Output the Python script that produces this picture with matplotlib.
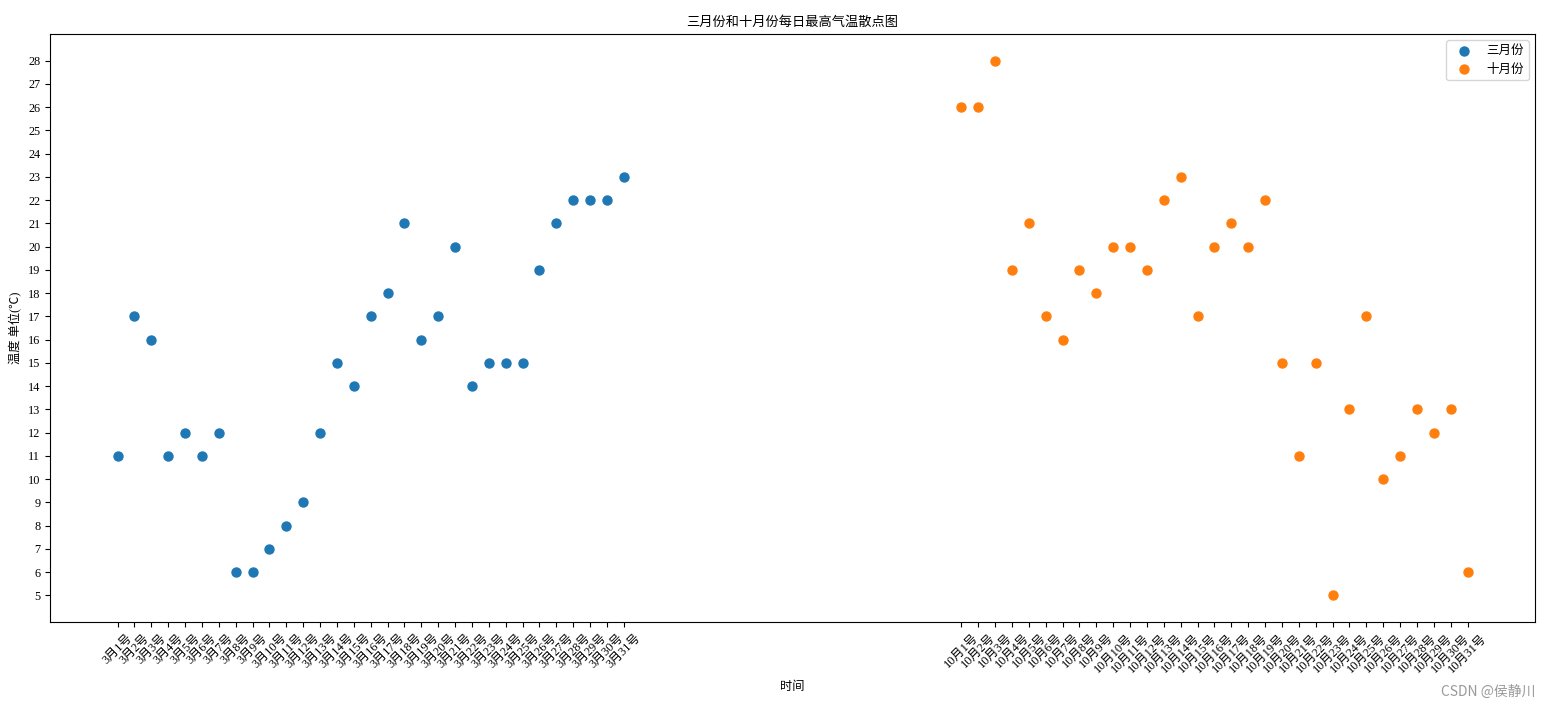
import matplotlib
matplotlib.use("Agg")
import matplotlib.pyplot as plt

plt.rcParams["font.family"] = ["Liberation Serif", "Noto Sans CJK SC", "DejaVu Sans"]
plt.rcParams["axes.unicode_minus"] = False

# daily max temperature, March and October
y_3 = [11, 17, 16, 11, 12, 11, 12, 6, 6, 7, 8, 9, 12, 15, 14, 17, 18, 21, 16, 17,
       20, 14, 15, 15, 15, 19, 21, 22, 22, 22, 23]
y_10 = [26, 26, 28, 19, 21, 17, 16, 19, 18, 20, 20, 19, 22, 23, 17, 20, 21, 20, 22,
        15, 11, 15, 5, 13, 17, 10, 11, 13, 12, 13, 6]

x_3 = list(range(1, 32))
x_10 = list(range(51, 82))

labels_3 = ["3月{}号".format(i) for i in range(1, 32)]
labels_10 = ["10月{}号".format(i) for i in range(1, 32)]

fig = plt.figure(figsize=(15.49, 7.07), dpi=100)
ax = fig.add_axes([0.0323, 0.12, 0.9587, 0.832])

ax.scatter(x_3, y_3, s=42, label="三月份")
ax.scatter(x_10, y_10, s=42, label="十月份")

ax.set_xticks(x_3 + x_10)
ax.set_xticklabels(labels_3 + labels_10, rotation=45, fontsize=8.8)
ax.set_yticks(range(min(y_3 + y_10), max(y_3 + y_10) + 1))
ax.tick_params(axis="y", labelsize=8.8)

ax.set_xlabel("时间", fontsize=8.8)
ax.set_ylabel("温度 单位(℃)", fontsize=8.8)
ax.set_title("三月份和十月份每日最高气温散点图", fontsize=9.5)
ax.legend(loc="upper right", fontsize=9)

fig.text(0.991, 0.012, "CSDN @侯静川", ha="right", va="bottom",
         color="#999999", fontsize=10, family=["Noto Sans CJK SC"])

fig.savefig("out.png", dpi=100)
